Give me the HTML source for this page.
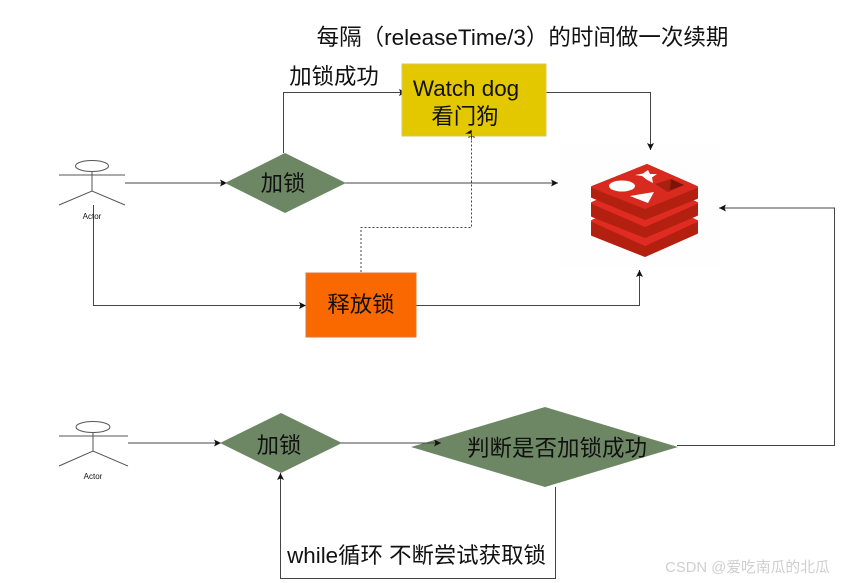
<!DOCTYPE html>
<html><head><meta charset="utf-8"><style>
html,body{margin:0;padding:0;background:#fff}
svg{display:block}
text{font-family:"Liberation Sans","Noto Sans CJK SC",sans-serif;fill:#111}
</style></head><body>
<svg width="841" height="583" viewBox="0 0 841 583" xmlns="http://www.w3.org/2000/svg">
<defs>
<marker id="a" markerWidth="8" markerHeight="8" refX="7" refY="3.5" orient="auto" markerUnits="userSpaceOnUse"><path d="M0 0L7 3.500L0 7L1.500 3.500Z" fill="#111"/></marker>
</defs>
<rect x="560" y="145" width="160" height="122" fill="#fefefe"/>
<g fill="none" stroke="#444" stroke-width="1">
<path d="M125 183H227" marker-end="url(#a)"/>
<path d="M345 183H558" marker-end="url(#a)"/>
<path d="M283.500 153V92.500H406" marker-end="url(#a)"/>
<path d="M546 92.500H650.500V150" marker-end="url(#a)"/>
<path d="M93.500 205V305.500H306" marker-end="url(#a)"/>
<path d="M416 305.500H639.500V270" marker-end="url(#a)"/>
<path d="M361 272V227.500H471.500V131" stroke-dasharray="2 2" marker-end="url(#a)"/>
<path d="M128 443H221" marker-end="url(#a)"/>
<path d="M677 445.500H834.500V208H719" marker-end="url(#a)"/>
<path d="M555.500 487V578.500H280.500V473" marker-end="url(#a)"/>
</g>
<g fill="none" stroke="#555" stroke-width="1">
<ellipse cx="92" cy="166" rx="16.500" ry="5.500"/>
<path d="M59 175H125M92 172V191M59 205L92 191L125 205"/>
<ellipse cx="93" cy="427" rx="17" ry="5.500"/>
<path d="M59 436H128M93 432V451M59 466L93 451L128 466"/>
</g>
<text x="92" y="219" font-size="8" text-anchor="middle">Actor</text>
<text x="93" y="479" font-size="8" text-anchor="middle">Actor</text>
<path d="M285 153L346 183L285 213L225 183Z" fill="#6d8764"/>
<path d="M281 413L342 443L281 473L220 443Z" fill="#6d8764"/>
<path d="M545 407L678 447L545 487L411 447Z" fill="#6d8764"/>
<path d="M341 443H441" fill="none" stroke="#444" marker-end="url(#a)"/>
<rect x="402" y="64" width="144" height="72" fill="#e3c800" stroke="#d8c85a"/>
<rect x="306" y="273" width="110" height="64" fill="#fa6800" stroke="#d9793a"/>
<path d="M471.500 136V131" fill="none" stroke="#333" stroke-dasharray="2 2"/>
<path d="M471.500 130L466 133.500H471.500V140" fill="#111" stroke="#333" stroke-width="0.600"/>
<path d="M471.500 136V140" fill="none" stroke="#333" stroke-dasharray="2 2"/>
<text x="522.500" y="45" font-size="22.500" text-anchor="middle">每隔（releaseTime/3）的时间做一次续期</text>
<text x="334" y="84" font-size="22.400" text-anchor="middle">加锁成功</text>
<text x="466" y="96" font-size="22.400" text-anchor="middle">Watch dog</text>
<text x="465" y="124" font-size="22.400" text-anchor="middle">看门狗</text>
<text x="283" y="191" font-size="22.400" text-anchor="middle">加锁</text>
<text x="361" y="312" font-size="22.400" text-anchor="middle">释放锁</text>
<text x="279" y="453" font-size="22.400" text-anchor="middle">加锁</text>
<text x="557" y="456" font-size="22.500" text-anchor="middle">判断是否加锁成功</text>
<text x="416.500" y="563" font-size="22.400" text-anchor="middle">while循环 不断尝试获取锁</text>
<g stroke-linejoin="round">
<path d="M592 221L645 197L697 221V233L645 256L592 235Z" fill="#b3200f" stroke="#b3200f" stroke-width="2"/>
<path d="M592 221L645 197L697 221L645 245Z" fill="#df2b22" stroke="#df2b22" stroke-width="2"/>
<path d="M592 203L645 179L697 203V215L645 237L592 216Z" fill="#b3200f" stroke="#b3200f" stroke-width="2"/>
<path d="M592 203L645 179L697 203L645 226Z" fill="#df2b22" stroke="#df2b22" stroke-width="2"/>
<path d="M592 187L647 165L697 187V198L645 219L592 197Z" fill="#b3200f" stroke="#b3200f" stroke-width="2"/>
<path d="M592 187L647 165L697 187L645 208Z" fill="#d92a20" stroke="#d92a20" stroke-width="2"/>
<ellipse cx="622" cy="186" rx="13" ry="5.500" fill="#fff"/>
<path d="M648 170L650 174L657 174L652 177.500L653 183L646.500 179.500L642 176L635 175L643 173.500Z" fill="#fff"/>
<path d="M630 196L654 192L648 203Z" fill="#fff"/>
<path d="M655 184L671 179L684 185L668 192Z" fill="#a8200f"/>
<path d="M671 179L684 185L670 190Z" fill="#7a1408"/>
</g>
<text x="747.500" y="572" font-size="14.800" text-anchor="middle" style="fill:#cfcfcf">CSDN @爱吃南瓜的北瓜</text>
</svg>
</body></html>
